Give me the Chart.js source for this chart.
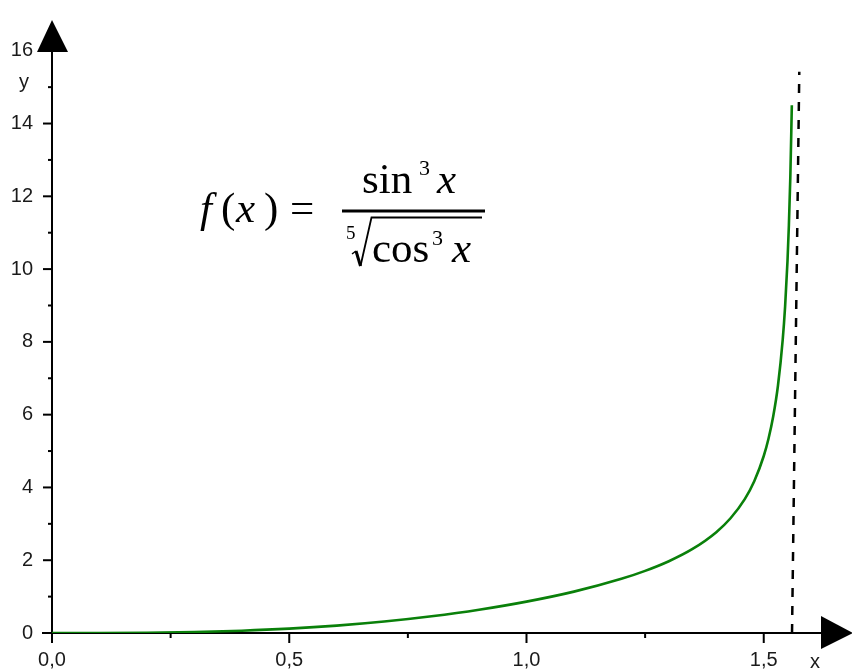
<!DOCTYPE html>
<html>
<head>
<meta charset="utf-8">
<script src="https://cdn.jsdelivr.net/npm/chart.js@4/dist/chart.umd.min.js"></script>
<style>
  html, body { margin: 0; padding: 0; background: #ffffff; }
  #wrap { width: 852px; height: 672px; }
</style>
</head>
<body>
<div id="wrap"><canvas id="c" width="852" height="672"></canvas></div>
<script>
// ---- data ----
const curveX = [0, 0.1, 0.2, 0.3, 0.4, 0.5, 0.6, 0.7, 0.8, 0.9, 1.0, 1.1, 1.2, 1.25, 1.3, 1.35, 1.4, 1.43, 1.46, 1.48, 1.5, 1.51, 1.52, 1.53, 1.54, 1.545, 1.55, 1.553, 1.556, 1.5592];
const curveY = [0, 0.001, 0.008, 0.027, 0.062, 0.119, 0.202, 0.314, 0.459, 0.639, 0.862, 1.137, 1.489, 1.708, 1.973, 2.310, 2.771, 3.153, 3.679, 4.170, 4.864, 5.339, 5.956, 6.802, 8.060, 8.967, 10.206, 11.21, 12.52, 14.5];
const asymptoteX = [1.5596, 1.5749];
const asymptoteY = [0, 15.42];
const xTickValues = [0, 0.5, 1.0, 1.5];
const xMinorValues = [0.25, 0.75, 1.25];
const yTickValues = [0, 2, 4, 6, 8, 10, 12, 14, 16];
const yMinorValues = [1, 3, 5, 7, 9, 11, 13, 15];
const xLabel = 'x';
const yLabel = 'y';

const sansFont = '"Liberation Sans", Arial, sans-serif';
const serifFont = '"Liberation Serif", "Times New Roman", serif';
const labelColor = '#1a1a1a';
const fmt = v => Number(v).toFixed(1).replace('.', ',');

const decor = {
  id: 'decor',
  beforeDatasetsDraw(chart) {
    const ctx = chart.ctx;
    const xs = chart.scales.x, ys = chart.scales.y;
    const x0 = xs.getPixelForValue(0);
    const y0 = ys.getPixelForValue(0);
    ctx.save();
    ctx.strokeStyle = '#000';
    ctx.fillStyle = '#000';
    ctx.lineWidth = 2;
    // y axis
    ctx.beginPath();
    ctx.moveTo(x0, y0 + 10);
    ctx.lineTo(x0, chart.chartArea.top + 30);
    ctx.stroke();
    // x axis
    ctx.beginPath();
    ctx.moveTo(x0 - 10, y0);
    ctx.lineTo(chart.chartArea.right - 25, y0);
    ctx.stroke();
    // y ticks
    yTickValues.forEach(v => {
      const p = ys.getPixelForValue(v);
      if (p < chart.chartArea.top + 34) return;
      ctx.beginPath(); ctx.moveTo(x0 - 9, p); ctx.lineTo(x0, p); ctx.stroke();
    });
    yMinorValues.forEach(v => {
      const p = ys.getPixelForValue(v);
      ctx.beginPath(); ctx.moveTo(x0 - 4, p); ctx.lineTo(x0, p); ctx.stroke();
    });
    // x ticks
    xTickValues.forEach(v => {
      const p = xs.getPixelForValue(v);
      ctx.beginPath(); ctx.moveTo(p, y0); ctx.lineTo(p, y0 + 10); ctx.stroke();
    });
    xMinorValues.forEach(v => {
      const p = xs.getPixelForValue(v);
      ctx.beginPath(); ctx.moveTo(p, y0); ctx.lineTo(p, y0 + 5); ctx.stroke();
    });
    // arrows
    const top = chart.chartArea.top;
    ctx.beginPath();
    ctx.moveTo(x0, top);
    ctx.lineTo(x0 - 15, top + 32);
    ctx.lineTo(x0 + 16, top + 32);
    ctx.closePath(); ctx.fill();
    const right = chart.chartArea.right;
    ctx.beginPath();
    ctx.moveTo(right + 1, y0);
    ctx.lineTo(right - 31, y0 - 17);
    ctx.lineTo(right - 31, y0 + 16);
    ctx.closePath(); ctx.fill();
    // axis names
    ctx.fillStyle = labelColor;
    ctx.font = '20px ' + sansFont;
    ctx.textAlign = 'center';
    ctx.textBaseline = 'alphabetic';
    ctx.fillText(xLabel, 815, 668);
    ctx.fillText(yLabel, 24, 88);
    ctx.restore();
  },
  afterDraw(chart) {
    const ctx = chart.ctx;
    ctx.save();
    ctx.fillStyle = '#000';
    ctx.strokeStyle = '#000';
    ctx.textAlign = 'left';
    ctx.textBaseline = 'alphabetic';
    const big = 43;
    // f(x) =
    ctx.font = `italic ${big}px ` + serifFont;
    ctx.fillText('f', 200, 222);
    ctx.font = `${big}px ` + serifFont;
    ctx.fillText('(', 221, 222);
    ctx.font = `italic ${big}px ` + serifFont;
    ctx.fillText('x', 236, 222);
    ctx.font = `${big}px ` + serifFont;
    ctx.fillText(')', 264, 222);
    ctx.fillText('=', 290, 222);
    // numerator
    ctx.fillText('sin', 362, 193);
    ctx.font = '22px ' + serifFont;
    ctx.fillText('3', 419, 175);
    ctx.font = `italic ${big}px ` + serifFont;
    ctx.fillText('x', 437, 193);
    // fraction bar
    ctx.fillRect(342, 209.5, 143, 3);
    // denominator
    ctx.font = '19px ' + serifFont;
    ctx.fillText('5', 346, 239);
    ctx.lineJoin = 'miter';
    ctx.lineWidth = 1.5;
    ctx.beginPath();
    ctx.moveTo(352, 254);
    ctx.lineTo(356, 251);
    ctx.stroke();
    ctx.lineWidth = 3;
    ctx.beginPath();
    ctx.moveTo(356, 251);
    ctx.lineTo(360.5, 266);
    ctx.stroke();
    ctx.lineWidth = 1.8;
    ctx.beginPath();
    ctx.moveTo(360.5, 266);
    ctx.lineTo(371.5, 217.5);
    ctx.lineTo(482, 217.5);
    ctx.stroke();
    ctx.font = `${big}px ` + serifFont;
    ctx.fillText('cos', 372, 262);
    ctx.font = '22px ' + serifFont;
    ctx.fillText('3', 432, 245);
    ctx.font = `italic ${big}px ` + serifFont;
    ctx.fillText('x', 452, 262);
    ctx.restore();
  }
};

new Chart(document.getElementById('c'), {
  type: 'scatter',
  data: {
    datasets: [
      {
        data: curveX.map((x, i) => ({ x, y: curveY[i] })),
        showLine: true,
        borderColor: '#0a800a',
        borderWidth: 2.6,
        pointRadius: 0,
        cubicInterpolationMode: 'monotone',
        fill: false
      },
      {
        data: asymptoteX.map((x, i) => ({ x, y: asymptoteY[i] })),
        showLine: true,
        borderColor: '#000000',
        borderWidth: 2.5,
        borderDash: [9, 9],
        pointRadius: 0,
        fill: false
      }
    ]
  },
  options: {
    responsive: false,
    devicePixelRatio: 1,
    animation: false,
    layout: { padding: { left: 0, right: 0, top: 20, bottom: 0 } },
    plugins: { legend: { display: false }, tooltip: { enabled: false } },
    scales: {
      x: {
        type: 'linear',
        min: 0,
        max: 1.686,
        afterBuildTicks: s => { s.ticks = xTickValues.map(v => ({ value: v })); },
        afterFit: s => { s.height = 39; s.paddingLeft = 0; s.paddingRight = 0; s.paddingTop = 0; s.paddingBottom = 0; },
        grid: { display: false, drawTicks: false, tickLength: 0 },
        border: { display: false },
        ticks: {
          callback: v => fmt(v),
          color: labelColor,
          font: { family: sansFont, size: 20 },
          padding: 15,
          maxRotation: 0,
          autoSkip: false
        }
      },
      y: {
        type: 'linear',
        min: 0,
        max: 16.845,
        afterBuildTicks: s => { s.ticks = yTickValues.map(v => ({ value: v })); },
        afterFit: s => { s.width = 52; s.paddingLeft = 0; s.paddingRight = 0; s.paddingTop = 0; s.paddingBottom = 0; },
        grid: { display: false, drawTicks: false, tickLength: 0 },
        border: { display: false },
        ticks: {
          callback: v => String(v),
          color: labelColor,
          font: { family: sansFont, size: 20 },
          padding: 19,
          autoSkip: false
        }
      }
    }
  },
  plugins: [decor]
});
</script>
</body>
</html>
